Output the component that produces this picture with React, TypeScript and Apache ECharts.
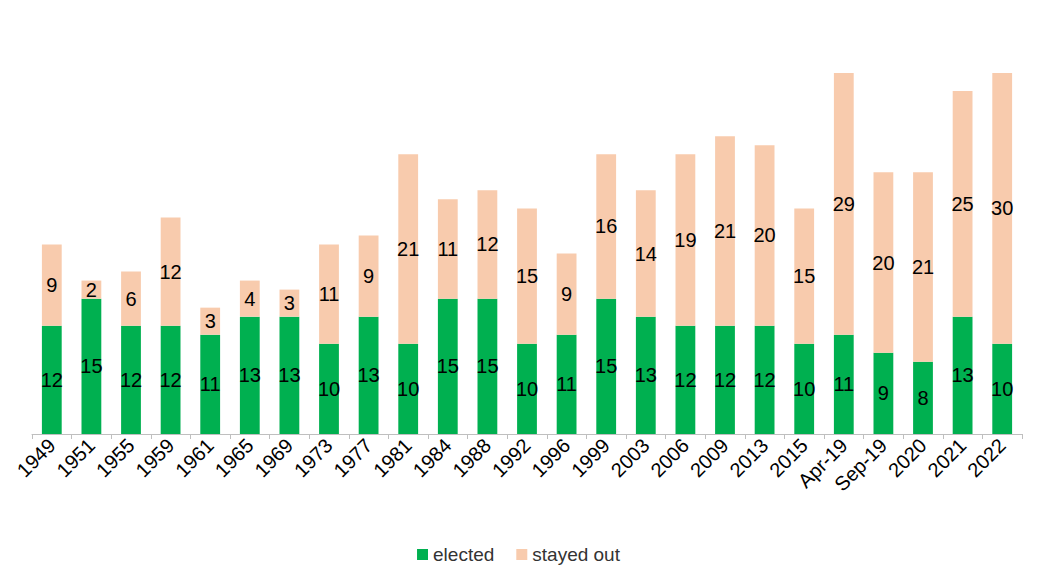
import { useEffect, useRef } from "react";
import * as echarts from "echarts";

const years = ["1949", "1951", "1955", "1959", "1961", "1965", "1969", "1973", "1977", "1981", "1984", "1988", "1992", "1996", "1999", "2003", "2006", "2009", "2013", "2015", "Apr-19", "Sep-19", "2020", "2021", "2022"];
const elected = [12, 15, 12, 12, 11, 13, 13, 10, 13, 10, 15, 15, 10, 11, 15, 13, 12, 12, 12, 10, 11, 9, 8, 13, 10];
const stayedOut = [9, 2, 6, 12, 3, 4, 3, 11, 9, 21, 11, 12, 15, 9, 16, 14, 19, 21, 20, 15, 29, 20, 21, 25, 30];

export default function App() {
  const ref = useRef<HTMLDivElement>(null);

  useEffect(() => {
    if (!ref.current) return;
    const chart = echarts.init(ref.current, null, { renderer: "svg" });
    const label = {
      show: true,
      position: "inside" as const,
      color: "#000",
      fontSize: 20,
      fontFamily: "Liberation Sans, Arial, sans-serif",
    };
    chart.setOption({
      animation: false,
      grid: { left: 24, right: 7, top: 65, bottom: 143 },
      legend: {
        bottom: 8,
        itemWidth: 11,
        itemHeight: 11,
        itemGap: 22,
        icon: "rect",
        textStyle: { fontSize: 19, color: "#333", fontFamily: "Liberation Sans, Arial, sans-serif" },
        data: ["elected", "stayed out"],
      },
      xAxis: {
        type: "category",
        data: years,
        axisLine: { lineStyle: { color: "#bfbfbf" } },
        axisTick: { show: true, lineStyle: { color: "#bfbfbf" } },
        axisLabel: {
          rotate: 45,
          interval: 0,
          color: "#000",
          fontSize: 20,
          fontFamily: "Liberation Sans, Arial, sans-serif",
        },
      },
      yAxis: { type: "value", min: 0, max: 40, show: false, splitLine: { show: false } },
      series: [
        {
          name: "elected",
          type: "bar",
          stack: "total",
          barWidth: "50%",
          data: elected,
          itemStyle: { color: "#00b050" },
          label,
        },
        {
          name: "stayed out",
          type: "bar",
          stack: "total",
          data: stayedOut,
          itemStyle: { color: "#f8cbad" },
          label,
        },
      ],
    });
    return () => chart.dispose();
  }, []);

  return <div ref={ref} style={{ width: 1021, height: 569 }} />;
}
